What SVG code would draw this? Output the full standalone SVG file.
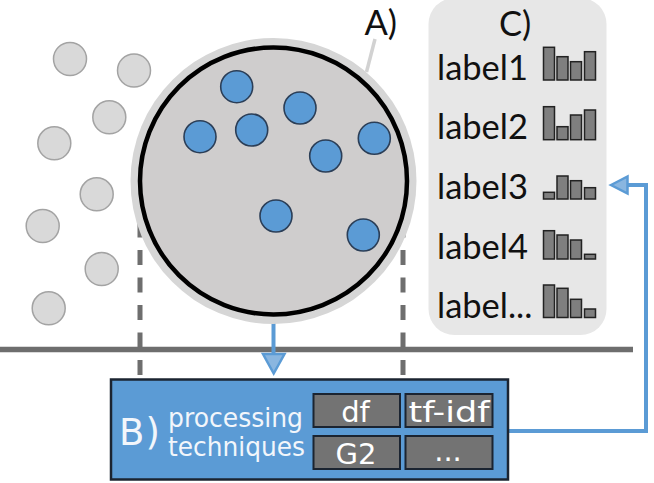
<svg xmlns="http://www.w3.org/2000/svg" width="654" height="483" viewBox="0 0 654 483">
<defs>
<style>
.gdot{fill:#d9d9d9;stroke:#a3a3a3;stroke-width:1.5}
.bdot{fill:#5b9bd5;stroke:#2b3e57;stroke-width:1.6}
.bar{fill:#7f7f7f;stroke:#222;stroke-width:1.5}
.lbl{font-family:Lato,"Liberation Sans",sans-serif;font-size:34.5px;fill:#111}
.tech{fill:#737373;stroke:#1b2431;stroke-width:2}
.techt{font-family:"DejaVu Sans",sans-serif;font-size:29px;fill:#fff;text-anchor:middle}
.btxt{font-family:"DejaVu Sans",sans-serif;fill:#f2f6fb}
.dash{stroke:#6e6e6e;stroke-width:5;stroke-dasharray:15 12.5;fill:none}
.conn{stroke:#5b9bd5;stroke-width:4;fill:none}
.head{fill:#8ab6e0;stroke:#5b9bd5;stroke-width:2.5;stroke-linejoin:miter}
</style>
</defs>
<rect width="654" height="483" fill="#fff"/>

<g id="background-dots">
<circle class="gdot" cx="70" cy="59" r="16.5"/>
<circle class="gdot" cx="134" cy="70.5" r="16.5"/>
<circle class="gdot" cx="109.3" cy="117.3" r="16.5"/>
<circle class="gdot" cx="54.3" cy="143.3" r="16.5"/>
<circle class="gdot" cx="96.7" cy="194.3" r="16.5"/>
<circle class="gdot" cx="42.7" cy="226" r="16.5"/>
<circle class="gdot" cx="101.7" cy="269" r="16.5"/>
<circle class="gdot" cx="48.7" cy="308.3" r="16.5"/>
</g>

<g id="connectors">
<line class="dash" x1="140" y1="195" x2="140" y2="377"/>
<line class="dash" x1="403" y1="195" x2="403" y2="377"/>
<line x1="0" y1="349.5" x2="633" y2="349.5" stroke="#6e6e6e" stroke-width="5.5"/>
<line x1="375" y1="39" x2="366.5" y2="72" stroke="#d2d2d2" stroke-width="3.5"/>
<line class="conn" x1="273.5" y1="318" x2="273.5" y2="356"/>
<polygon class="head" points="263,354 284.5,354 273.7,373.5"/>
<polyline class="conn" points="508,431 646,431 646,185 626,185"/>
<polygon class="head" points="611,185 627.5,176.5 627.5,193.5"/>
</g>

<g id="A">
<circle cx="273.5" cy="181" r="143" fill="#d6d6d6"/>
<circle cx="273.5" cy="181" r="133.5" fill="#cfcdcd" stroke="#000" stroke-width="4.5"/>
<circle class="bdot" cx="236.7" cy="86.7" r="16"/>
<circle class="bdot" cx="300" cy="108" r="16"/>
<circle class="bdot" cx="200" cy="136.7" r="16"/>
<circle class="bdot" cx="251.7" cy="130" r="16"/>
<circle class="bdot" cx="374.3" cy="138.3" r="16"/>
<circle class="bdot" cx="325.7" cy="156" r="16"/>
<circle class="bdot" cx="276" cy="216" r="16"/>
<circle class="bdot" cx="363.3" cy="235" r="16"/>
<text x="364.5" y="34.5" font-family="Lato,'Liberation Sans',sans-serif" font-size="34.5" fill="#111">A)</text>
</g>

<g id="B">
<rect x="111" y="379.5" width="397" height="100" fill="#5b9bd5" stroke="#1b2431" stroke-width="2.5"/>
<text class="btxt" x="119" y="444.5" font-size="37">B<tspan dx="1">)</tspan></text>
<text class="btxt" x="168" y="427" font-size="26.5" textLength="135" lengthAdjust="spacingAndGlyphs">processing</text>
<text class="btxt" x="168" y="456" font-size="26.5" textLength="137" lengthAdjust="spacingAndGlyphs">techniques</text>
<rect class="tech" x="313.5" y="394" width="86.5" height="33"/>
<rect class="tech" x="405.5" y="394" width="87" height="33"/>
<rect class="tech" x="313.5" y="436" width="86.5" height="33"/>
<rect class="tech" x="405.5" y="436" width="87" height="33"/>
<text class="techt" x="355.5" y="421.5">df</text>
<text class="techt" x="449" y="421.5" textLength="81" lengthAdjust="spacingAndGlyphs">tf-idf</text>
<text class="techt" x="356" y="463.5">G2</text>
<text class="techt" x="448" y="461" font-size="26" fill="#e0e0e0">...</text>
</g>

<g id="C">
<rect x="428.5" y="-2" width="178" height="337" rx="26" fill="#e7e7e7"/>
<text x="499" y="35.5" font-family="Lato,'Liberation Sans',sans-serif" font-size="34.5" fill="#111">C)</text>
<text class="lbl" x="437" y="80">label1</text>
<text class="lbl" x="437" y="139">label2</text>
<text class="lbl" x="437" y="199">label3</text>
<text class="lbl" x="437" y="259">label4</text>
<text class="lbl" x="437" y="317.5">label...</text>
<g id="bars1">
<rect class="bar" x="543.5" y="47.3" width="11" height="32.7"/>
<rect class="bar" x="557" y="56.7" width="11" height="23.3"/>
<rect class="bar" x="570.5" y="61.7" width="11" height="18.3"/>
<rect class="bar" x="584.5" y="51.7" width="11" height="28.3"/>
</g>
<g id="bars2">
<rect class="bar" x="543.5" y="106.7" width="11" height="33"/>
<rect class="bar" x="557" y="126.7" width="11" height="13"/>
<rect class="bar" x="570.5" y="115" width="11" height="24.7"/>
<rect class="bar" x="584.5" y="110" width="11" height="29.7"/>
</g>
<g id="bars3">
<rect class="bar" x="543.5" y="192.3" width="11" height="6.7"/>
<rect class="bar" x="557" y="176" width="11" height="23"/>
<rect class="bar" x="570.5" y="180.7" width="11" height="18.3"/>
<rect class="bar" x="584.5" y="187.7" width="11" height="11.3"/>
</g>
<g id="bars4">
<rect class="bar" x="543.5" y="230.7" width="11" height="28.3"/>
<rect class="bar" x="557" y="235" width="11" height="24"/>
<rect class="bar" x="570.5" y="240" width="11" height="19"/>
<rect class="bar" x="584.5" y="254.3" width="11" height="4.7"/>
</g>
<g id="bars5">
<rect class="bar" x="543.5" y="285" width="11" height="32.5"/>
<rect class="bar" x="557" y="288.3" width="11" height="29.2"/>
<rect class="bar" x="570.5" y="299.3" width="11" height="18.2"/>
<rect class="bar" x="584.5" y="309" width="11" height="8.5"/>
</g>
</g>
</svg>
